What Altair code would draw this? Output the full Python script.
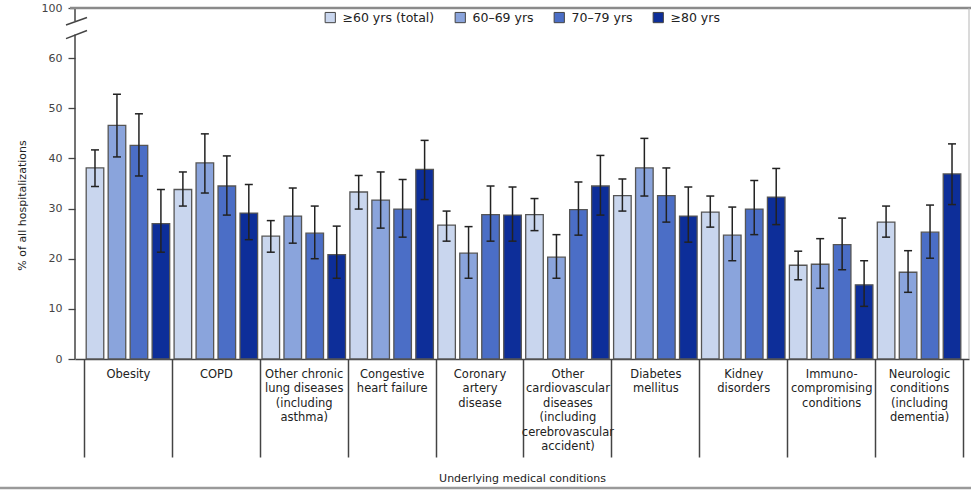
import altair as alt
import pandas as pd

# Underlying conditions (| marks a line break in the axis label)
categories = [
    "Obesity",
    "COPD",
    "Other chronic|lung diseases|(including|asthma)",
    "Congestive|heart failure",
    "Coronary|artery|disease",
    "Other|cardiovascular|diseases|(including|cerebrovascular|accident)",
    "Diabetes|mellitus",
    "Kidney|disorders",
    "Immuno-|compromising|conditions",
    "Neurologic|conditions|(including|dementia)",
]
age_groups = ["≥60 yrs (total)", "60–69 yrs", "70–79 yrs", "≥80 yrs"]
colors = ["#c9d6ee", "#8aa4dc", "#4b6ec6", "#0d2e99"]

# Percent of hospitalizations with 95% confidence limits
pct_total = [38.1, 33.8, 24.5, 33.3, 26.7, 28.8, 32.6, 29.3, 18.7, 27.3]
lo_total = [34.4, 30.5, 21.3, 29.9, 23.5, 25.6, 29.5, 26.3, 15.8, 24.3]
hi_total = [41.7, 37.3, 27.6, 36.6, 29.5, 32.0, 35.9, 32.5, 21.5, 30.5]

pct_60_69 = [46.6, 39.1, 28.5, 31.7, 21.1, 20.3, 38.1, 24.7, 18.9, 17.3]
lo_60_69 = [40.3, 33.1, 23.1, 26.1, 16.1, 16.1, 32.5, 19.6, 14.1, 13.3]
hi_60_69 = [52.8, 44.9, 34.1, 37.3, 26.4, 24.8, 44.0, 30.3, 24.0, 21.6]

pct_70_79 = [42.6, 34.5, 25.1, 29.9, 28.8, 29.8, 32.6, 29.9, 22.8, 25.3]
lo_70_79 = [36.5, 28.7, 20.0, 24.3, 23.5, 24.7, 27.3, 24.8, 17.8, 20.1]
hi_70_79 = [48.9, 40.5, 30.5, 35.8, 34.5, 35.3, 38.1, 35.6, 28.1, 30.7]

pct_80 = [27.0, 29.1, 20.8, 37.8, 28.7, 34.5, 28.5, 32.3, 14.8, 36.9]
lo_80 = [21.3, 23.8, 16.1, 31.8, 23.5, 28.7, 23.3, 26.8, 10.5, 30.8]
hi_80 = [33.8, 34.8, 26.5, 43.6, 34.3, 40.6, 34.3, 38.0, 19.6, 42.9]

# Y axis: top tick stands for 100 after the axis break
y_ticks = [0, 10, 20, 30, 40, 50, 60, 70]
axis_segments = pd.DataFrame({"y0": [0, 67.4], "y1": [64.7, 70]})
break_marks = pd.DataFrame({"y0": [66.6, 63.9], "y1": [68.1, 65.5]})

series = [
    (pct_total, lo_total, hi_total),
    (pct_60_69, lo_60_69, hi_60_69),
    (pct_70_79, lo_70_79, hi_70_79),
    (pct_80, lo_80, hi_80),
]
rows = []
for age, (pct, lo, hi) in zip(age_groups, series):
    for cat, p, l, h in zip(categories, pct, lo, hi):
        rows.append({"condition": cat, "age": age, "pct": p, "lo": l, "hi": h})
df = pd.DataFrame(rows)

W, H = 894, 351
FONT = "DejaVu Sans"
DARK = "#444444"

x_enc = alt.X(
    "condition:N",
    sort=categories,
    scale=alt.Scale(paddingInner=0, paddingOuter=0.0853, align=0.6),
    axis=alt.Axis(
        title="Underlying medical conditions",
        titleFont=FONT,
        titleFontSize=11,
        titleFontWeight="normal",
        titleColor="#222",
        titleY=119,
        titleBaseline="middle",
        labelExpr="split(datum.label, '|')",
        labelAngle=0,
        labelFont=FONT,
        labelFontSize=11.5,
        labelColor="#222",
        labelBaseline="top",
        labelLineHeight=14.5,
        labelPadding=-89,
        labelOverlap=False,
        labelLimit=0,
        tickBand="extent",
        tickSize=98,
        tickColor=DARK,
        tickWidth=1.5,
        domainColor=DARK,
        domainWidth=1.5,
    ),
)
xoff_enc = alt.XOffset(
    "age:N", sort=age_groups, scale=alt.Scale(paddingInner=0.2, paddingOuter=0.1)
)
y_scale = alt.Scale(domain=[0, 70], nice=False, zero=True)

bars = alt.Chart(df).mark_bar(stroke="#555555", strokeWidth=1.3).encode(
    x=x_enc,
    xOffset=xoff_enc,
    y=alt.Y(
        "pct:Q",
        scale=y_scale,
        axis=alt.Axis(
            values=y_ticks,
            labelExpr="datum.value == 70 ? '100' : datum.label",
            domain=False,
            grid=False,
            tickSize=7,
            tickColor=DARK,
            tickWidth=1.3,
            labelPadding=6,
            labelFont=FONT,
            labelFontSize=11,
            labelColor="#444",
            title="% of all hospitalizations",
            titleFont=FONT,
            titleFontSize=11,
            titleFontWeight="normal",
            titleColor="#222",
            titleX=-53,
            titleY=197,
            titleAngle=-90,
            titleBaseline="middle",
            titleAlign="center",
        ),
    ),
    color=alt.Color(
        "age:N",
        sort=age_groups,
        scale=alt.Scale(domain=age_groups, range=colors),
        legend=alt.Legend(
            title=None,
            orient="none",
            legendX=249,
            legendY=3,
            direction="horizontal",
            symbolType="square",
            symbolSize=105,
            symbolStrokeColor="#444",
            symbolStrokeWidth=1,
            symbolOpacity=1,
            labelFont=FONT,
            labelFontSize=12.5,
            labelColor="#222",
            labelOffset=6,
            columnPadding=18,
            padding=0,
        ),
    ),
)

err_color = "#222222"
whiskers = alt.Chart(df).mark_rule(color=err_color, strokeWidth=1.5).encode(
    x=alt.X("condition:N", sort=categories),
    xOffset=xoff_enc,
    y=alt.Y("lo:Q", scale=y_scale),
    y2="hi:Q",
)
caps_hi = alt.Chart(df).mark_tick(color=err_color, thickness=1.5, size=8, opacity=1).encode(
    x=alt.X("condition:N", sort=categories),
    xOffset=xoff_enc,
    y=alt.Y("hi:Q", scale=y_scale),
)
caps_lo = alt.Chart(df).mark_tick(color=err_color, thickness=1.5, size=8, opacity=1).encode(
    x=alt.X("condition:N", sort=categories),
    xOffset=xoff_enc,
    y=alt.Y("lo:Q", scale=y_scale),
)

# Broken y axis line and the break marks
y_line = alt.Chart(axis_segments).mark_rule(color=DARK, strokeWidth=1.5).encode(
    x=alt.value(0),
    y=alt.Y("y0:Q", scale=y_scale),
    y2="y1:Q",
)
breaks = alt.Chart(break_marks).mark_rule(color=DARK, strokeWidth=1.5).encode(
    x=alt.value(-9),
    x2=alt.value(12),
    y=alt.Y("y0:Q", scale=y_scale),
    y2="y1:Q",
)

# Frame lines
top_line = alt.Chart().mark_rule(color="#8a8a8a", strokeWidth=2.5).encode(
    x=alt.value(-5), x2=alt.value(W + 2), y=alt.datum(70, scale=y_scale)
)
right_line = alt.Chart().mark_rule(color="#b5b5b5", strokeWidth=1).encode(
    x=alt.value(W), y=alt.value(0), y2=alt.value(H)
)
bottom_line = alt.Chart().mark_rule(color="#9a9a9a", strokeWidth=2.5).encode(
    x=alt.value(-75), x2=alt.value(W + 2), y=alt.value(480)
)

chart = (
    alt.layer(bars, whiskers, caps_hi, caps_lo, y_line, breaks, top_line, right_line, bottom_line)
    .resolve_scale(y="shared")
    .properties(
        width=W,
        height=H,
        autosize=alt.AutoSizeParams(type="none"),
        padding={"left": 75, "top": 8, "right": 2, "bottom": 132},
        background="white",
    )
    .configure_view(stroke=None)
)

chart.save("out.html", embed_options={"renderer": "svg", "actions": False})
